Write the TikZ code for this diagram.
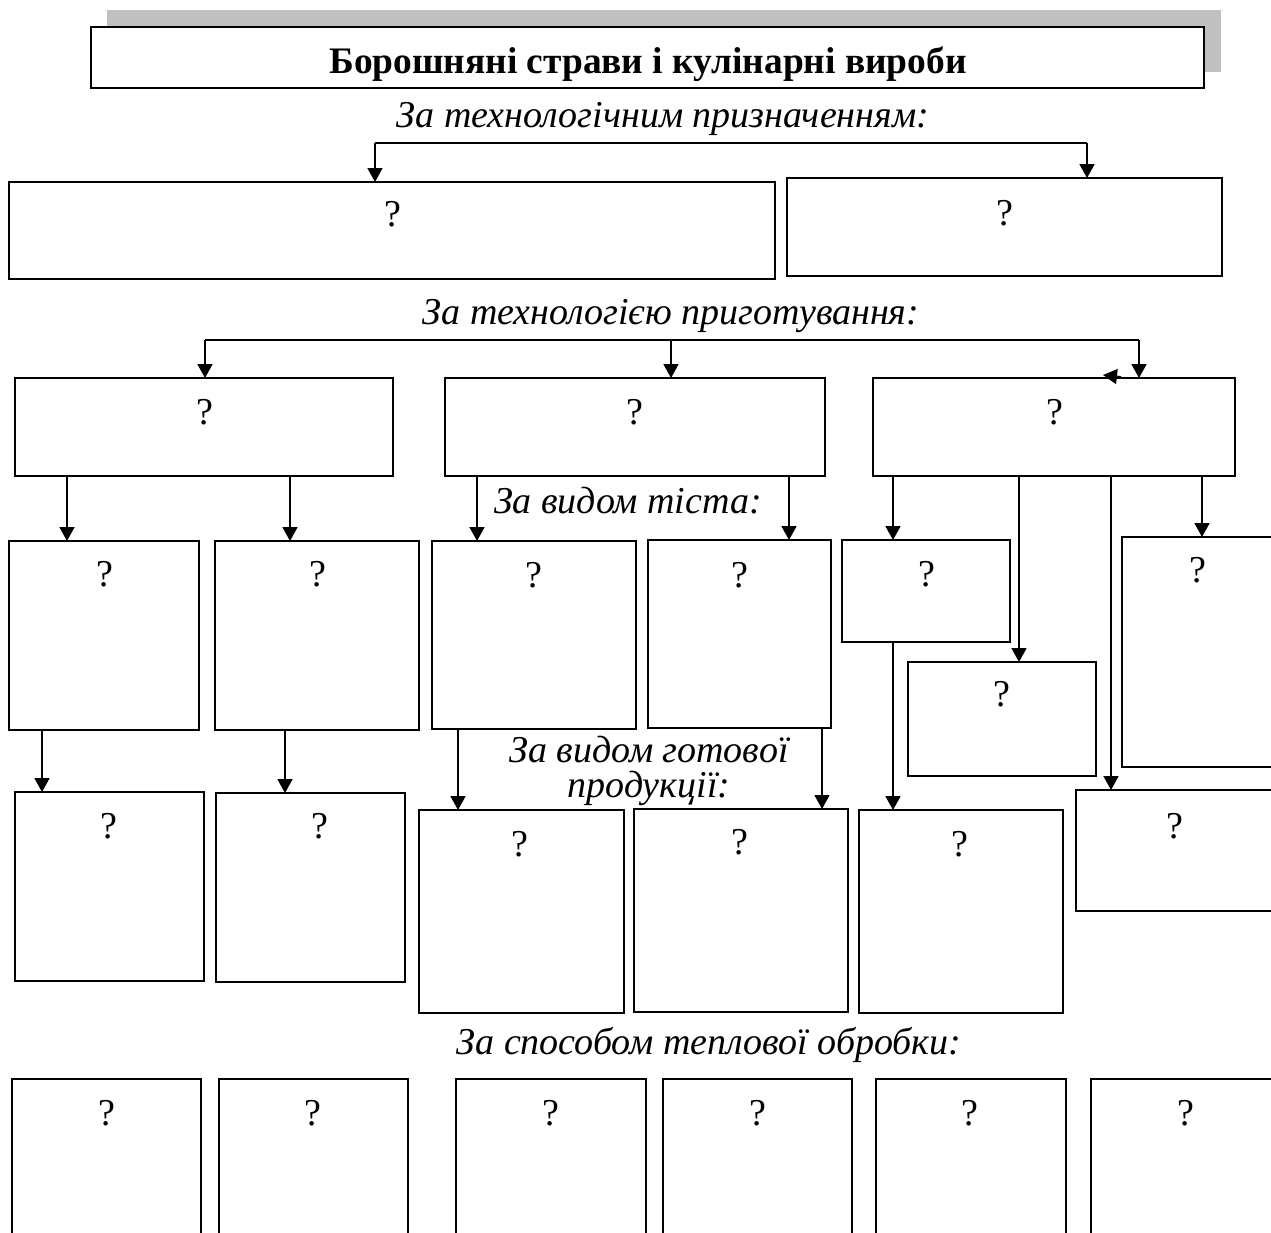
\documentclass[tikz,border=0pt]{standalone}
\usepackage{fontspec}
\setmainfont{Liberation Serif}
\usetikzlibrary{arrows.meta}
\definecolor{shadowgray}{HTML}{C0C0C0}
\newcommand\bx[6][]{\node[box,#1, minimum width={(#4-#2)*0.5pt}, minimum height={(#5-#3)*0.5pt}] (#6) at ({(#2+#4)/2},{(#3+#5)/2}) {};}
\begin{document}
\begin{tikzpicture}[x=0.5pt,y=-0.5pt,
  box/.style={draw, line width=1pt, fill=white, inner sep=0pt, outer sep=0pt},
  shadowbox/.style={draw=none, fill=shadowgray},
  arr/.style={line width=0.9pt, -{Triangle[length=7pt,width=7.5pt]}},
  plain/.style={line width=0.9pt},
  q/.style={inner sep=0pt, font=\fontsize{19}{22}\selectfont},
  lbl/.style={inner sep=0pt, font=\fontsize{19}{17.5}\selectfont\itshape, align=center},
  ttl/.style={inner sep=0pt, font=\fontsize{18.7}{22}\selectfont\bfseries}]
\useasboundingbox (0,0) rectangle (1271,1233);
\clip (0,0) rectangle (1271,1233);
% title
\bx[shadowbox]{107}{10}{1221}{72}{tshadow}
\bx{91}{27}{1204}{88}{title}
\node[ttl, anchor=base] (ttext) at (648,73) {Борошняні страви і кулінарні вироби};
% labels
\node[lbl, anchor=base] (l1) at (663,127) {За технологічним призначенням:};
\node[lbl, anchor=base] (l2) at (671,324) {За технологією приготування:};
\node[lbl, anchor=base] (l3) at (628,513) {За видом тіста:};
\node[lbl] (l4) at (649,771) {За видом готової\\продукції:};
\node[lbl, anchor=base] (l5) at (709,1054) {За способом теплової обробки:};
% boxes
\bx{9}{182}{775}{279}{A}
\bx{787}{178}{1222}{276}{B}
\bx{15}{378}{393}{476}{C1}
\bx{445}{378}{825}{476}{C2}
\bx{873}{378}{1235}{476}{C3}
\bx{9}{541}{199}{730}{D1}
\bx{215}{541}{419}{730}{D2}
\bx{432}{541}{636}{729}{D3}
\bx{648}{540}{831}{728}{D4}
\bx{842}{540}{1010}{642}{D5}
\bx{1122}{537}{1300}{767}{D6}
\bx{908}{662}{1096}{776}{D7}
\bx{15}{792}{204}{981}{E1}
\bx{216}{793}{405}{982}{E2}
\bx{419}{810}{624}{1013}{E3}
\bx{634}{809}{848}{1012}{E4}
\bx{859}{810}{1063}{1013}{E5}
\bx{1076}{790}{1300}{911}{E6}
\bx{12}{1079}{201}{1270}{F1}
\bx{219}{1079}{408}{1270}{F2}
\bx{456}{1079}{646}{1270}{F3}
\bx{663}{1079}{852}{1270}{F4}
\bx{876}{1079}{1066}{1270}{F5}
\bx{1091}{1079}{1300}{1270}{F6}
% question marks
\node[q] (qA) at (393,214) {?};
\node[q] (qB) at (1005,213) {?};
\node[q] (qC1) at (205,412) {?};
\node[q] (qC2) at (635,412) {?};
\node[q] (qC3) at (1055,412) {?};
\node[q] (qD1) at (105,574) {?};
\node[q] (qD2) at (318,574) {?};
\node[q] (qD3) at (534,575) {?};
\node[q] (qD4) at (740,575) {?};
\node[q] (qD5) at (927,574) {?};
\node[q] (qD6) at (1198,570) {?};
\node[q] (qD7) at (1002,694) {?};
\node[q] (qE1) at (109,826) {?};
\node[q] (qE2) at (320,826) {?};
\node[q] (qE3) at (520,844) {?};
\node[q] (qE4) at (740,842) {?};
\node[q] (qE5) at (960,844) {?};
\node[q] (qE6) at (1175,826) {?};
\node[q] (qF1) at (107,1113) {?};
\node[q] (qF2) at (313,1113) {?};
\node[q] (qF3) at (551,1113) {?};
\node[q] (qF4) at (758,1113) {?};
\node[q] (qF5) at (970,1113) {?};
\node[q] (qF6) at (1186,1113) {?};
% first branching
\coordinate (b1) at (375,143);
\coordinate (b2) at (1087,143);
\draw[plain] (b1) -- (b2);
\draw[arr] (b1) -- (b1 |- A.north);
\draw[arr] (b2) -- (b2 |- B.north);
% second branching
\coordinate (c1) at (205,340);
\coordinate (c2) at (671,340);
\coordinate (c3) at (1139,340);
\draw[plain] (c1) -- (c3);
\draw[arr] (c1) -- (c1 |- C1.north);
\draw[arr] (c2) -- (c2 |- C2.north);
\draw[arr] (c3) -- (c3 |- C3.north);
% stray arrowhead
\coordinate (s1) at (1121,377);
\coordinate (s2) at (1103,375);
\draw[arr] (s1) -- (s2);
% C -> D
\draw[arr] (C1.south -| 67,0) -- (D1.north -| 67,0);
\draw[arr] (C1.south -| 290,0) -- (D2.north -| 290,0);
\draw[arr] (C2.south -| 477,0) -- (D3.north -| 477,0);
\draw[arr] (C2.south -| 789,0) -- (D4.north -| 789,0);
\draw[arr] (C3.south -| 893,0) -- (D5.north -| 893,0);
\draw[arr] (C3.south -| 1019,0) -- (D7.north -| 1019,0);
\draw[arr] (C3.south -| 1111,0) -- (E6.north -| 1111,0);
\draw[arr] (C3.south -| 1202,0) -- (D6.north -| 1202,0);
% D -> E
\draw[arr] (D1.south -| 42,0) -- (E1.north -| 42,0);
\draw[arr] (D2.south -| 285,0) -- (E2.north -| 285,0);
\draw[arr] (D3.south -| 458,0) -- (E3.north -| 458,0);
\draw[arr] (D4.south -| 822,0) -- (E4.north -| 822,0);
\draw[arr] (D5.south -| 893,0) -- (E5.north -| 893,0);
\end{tikzpicture}
\end{document}
